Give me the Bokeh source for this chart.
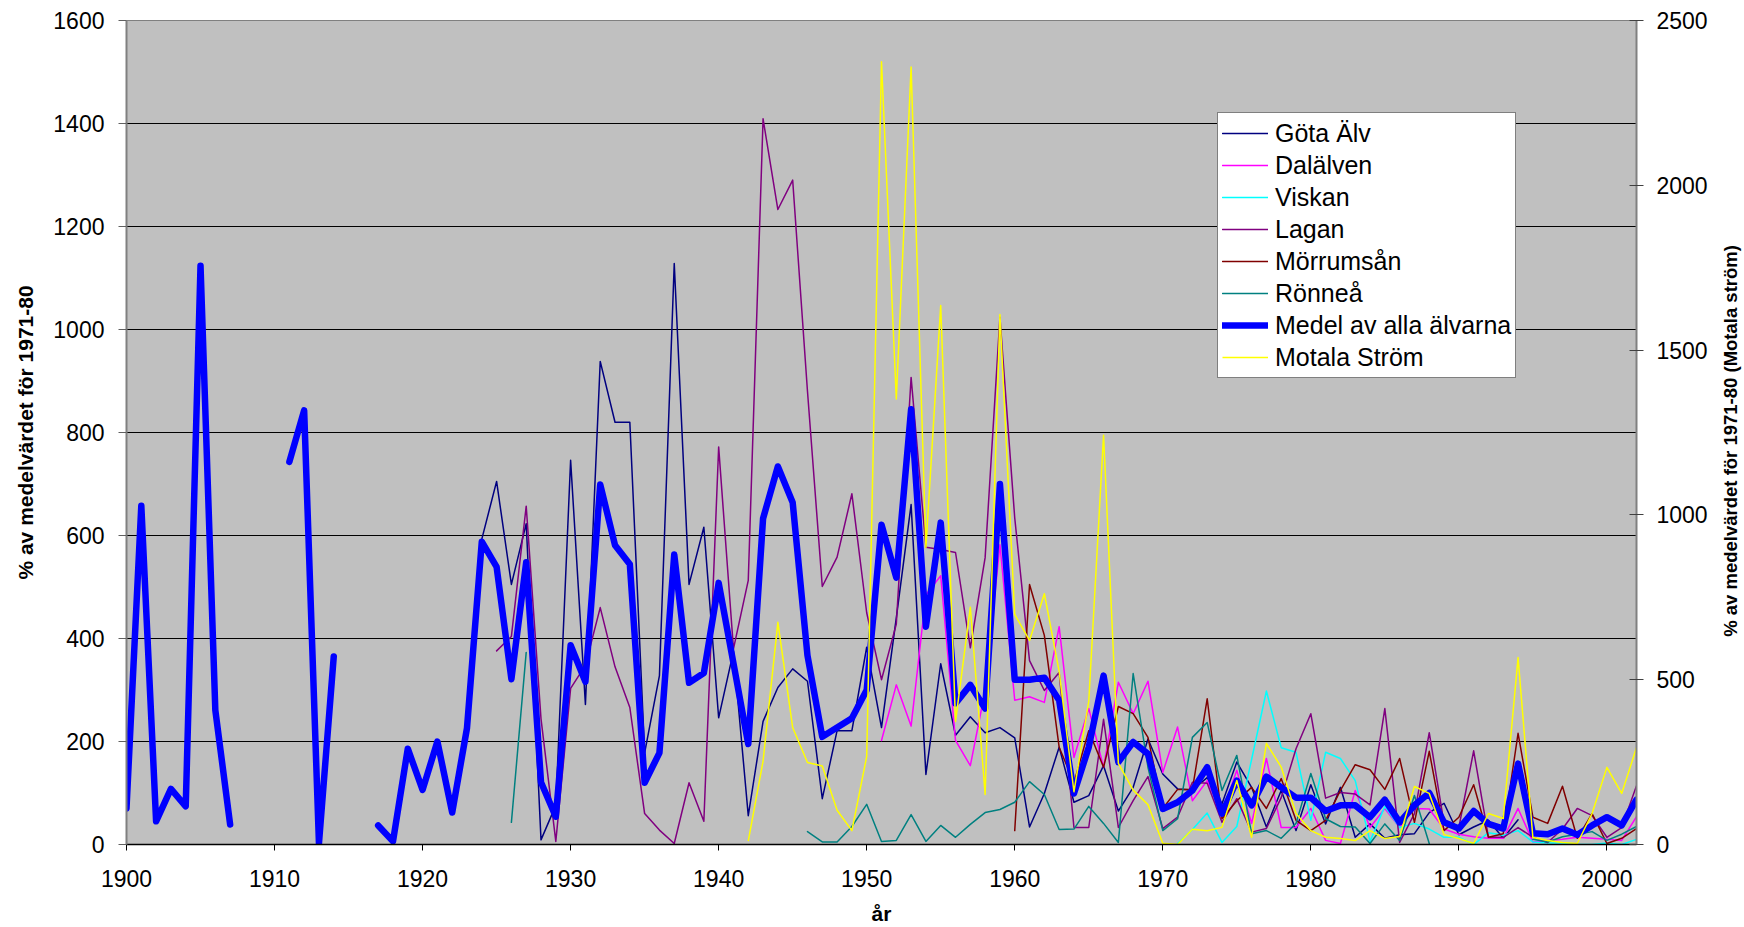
import math
import numpy as np
from bokeh.plotting import figure
from bokeh.layouts import row
from bokeh.models import Range1d, LinearAxis, FixedTicker
from bokeh.core.properties import value
from bokeh.embed import file_html
from bokeh.resources import INLINE

N = None
years = list(range(1900, 2003))

medel = [70, 658, 45, 108, 74, 1124, 261, 39, N, N,
         N, 743, 843, 2, 365, N, N, 37, 6, 186,
         106, 200, 62, 226, 588, 539, 321, 548, 121, 54,
         387, 316, 699, 581, 544, 120, 178, 563, 314, 333,
         508, 352, 195, 633, 734, 664, 367, 209, 227, 245,
         300, 621, 518, 845, 423, 625, 274, 310, 264, 700,
         320, 320, 324, 280, 99, 189, 328, 160, 199, 176,
         69, 82, 105, 150, 60, 124, 76, 132, 111, 91,
         91, 65, 76, 76, 53, 87, 43, 76, 100, 43,
         31, 65, 40, 31, 157, 22, 20, 31, 19, 37,
         53, 37, 87]

gota_start = 1924
gota = [593, 705, 505, 623, 9, 76,
        746, 272, 938, 820, 820, 178, 328, 1128, 505, 616,
        246, 375, 56, 239, 305, 341, 317, 89, 221, 221,
        383, 227, 440, 660, 136, 351, 212, 248, 217, 227,
        207, 34, 99, 189, 82, 95, 153, 65, 111, 205,
        137, 108, 106, 130, 79, 160, 111, 34, 105, 27,
        116, 40, 111, 14, 40, 12, 19, 21, 62, 80,
        19, 34, 47, 12, 48]

dal_start = 1951
dal = [202, 310, 230, 485, 522, 202, 153, 299, 582,
       280, 287, 276, 423, 169, 264, 150, 315, 254, 317,
       140, 228, 85, 124, 60, 144, 41, 167, 33, 33,
       70, 8, 2, 105, 33, 70, 33, 70, 69, 30,
       20, 15, 12, 12, 70, 5, 8, 10, 14, 12,
       10, 8, 54]

viskan_start = 1971
viskan = [2, 29, 61, 4, 35, 165, 298, 188, 179,
          47, 179, 167, 124, 6, 74, 33, 41, 30, 14,
          14, 0, 23, 18, 27, 5, 3, 3, 0, 0,
          3, 0, 10]

lagan_start = 1925
lagan = [376, 404, 657, 244, 6,
         303, 348, 460, 345, 266, 60, 28, 2, 120, 45,
         772, 380, 513, 1409, 1233, 1290, 880, 501, 558, 681,
         450, 320, 428, 907, 577, 573, 567, 382, 557, 1024,
         634, 357, 299, 334, 33, 33, 243, 33, 85, 132,
         31, 53, 121, 119, 43, 89, 24, 31, 91, 186,
         254, 90, 101, 98, 77, 264, 4, 60, 217, 41,
         33, 182, 14, 14, 33, 14, 4, 30, 70, 56,
         14, 33, 114]

morrum_start = 1960
morrum = [27, 505, 406, 189, 120, 221, 150, 268, 254, 208,
          70, 107, 107, 283, 50, 85, 111, 70, 128, 47,
          27, 47, 105, 155, 145, 107, 167, 43, 181, 27,
          53, 116, 14, 21, 216, 53, 41, 113, 12, 60,
          2, 12, 31]

ronne_start = 1926
ronne = [43, 373, N, N,
         N, N, N, N, N, N, N, N, N, N,
         N, N, N, N, N, N, 25, 5, 5, 35,
         78, 6, 8, 58, 6, 37, 14, 39, 62, 68,
         82, 122, 97, 29, 30, 74, 41, 4, 332, 150,
         27, 50, 208, 237, 105, 173, 21, 27, 12, 41,
         138, 50, 35, 34, 2, 40, 8, 95, 2, N,
         N, N, N, N, N, 10, 5, 15, 20, 25,
         8, 20, 35]

motala_start = 1942
motala = [10, 253, 674, 355, 249, 238, 104, 42,
          267, 2375, 1352, 2359, 901, 1635, 373, 720, 152, 1608,
          698, 619, 761, 525, 160, 434, 1242, 246, 165, 121,
          4, 0, 46, 42, 52, 194, 22, 307, 235, 94,
          42, 22, 18, 12, 42, 18, 24, 176, 155, 30,
          18, 3, 94, 79, 567, 21, 12, 6, 3, 94,
          234, 155, 294]

x_ticks = list(range(1900, 2001, 10))
left_ticks = list(range(0, 1601, 200))
right_ticks = list(range(0, 2501, 500))

x_title = "år"
left_title = "% av medelvärdet för 1971-80"
right_title = "% av medelvärdet för 1971-80 (Motala ström)"


def full(start, vals):
    out = [np.nan] * len(years)
    for i, v in enumerate(vals):
        out[start - years[0] + i] = np.nan if v is None else float(v)
    return np.array(out)


FONT = "Liberation Sans"

p = figure(width=1712, height=927, output_backend="svg", toolbar_location=None,
           x_range=Range1d(1900, 2002), y_range=Range1d(0, 1600),
           min_border_left=126, min_border_right=76, min_border_top=20,
           min_border_bottom=83, background_fill_color="#C0C0C0",
           border_fill_color="white", outline_line_color="#808080")

p.extra_y_ranges = {"motala": Range1d(0, 2500)}

# grid
p.xgrid.visible = False
p.ygrid.ticker = FixedTicker(ticks=left_ticks)
p.ygrid.grid_line_color = "#000000"
p.ygrid.grid_line_width = 1

# bottom axis
xa = p.xaxis[0]
xa.ticker = FixedTicker(ticks=x_ticks)
xa.axis_line_color = "#000000"
xa.axis_line_width = 1.5
xa.major_tick_out = 6
xa.major_tick_in = 0
xa.minor_tick_out = 0
xa.minor_tick_in = 0
xa.major_tick_line_color = "#000000"
xa.major_label_standoff = 19
xa.major_label_text_font = FONT
xa.major_label_text_font_size = "23px"
xa.major_label_text_color = "#000000"
xa.axis_label = x_title
xa.axis_label_text_font = FONT
xa.axis_label_text_font_style = "bold"
xa.axis_label_text_font_size = "21px"
xa.axis_label_text_color = "#000000"
xa.axis_label_standoff = 12

# left axis
ya = p.yaxis[0]
ya.ticker = FixedTicker(ticks=left_ticks)
ya.axis_line_color = "#808080"
ya.axis_line_width = 2
ya.major_tick_out = 8
ya.major_tick_in = 0
ya.minor_tick_out = 0
ya.minor_tick_in = 0
ya.major_tick_line_color = "#606060"
ya.major_label_standoff = 14
ya.major_label_text_font = FONT
ya.major_label_text_font_size = "23px"
ya.major_label_text_color = "#000000"
ya.axis_label = left_title
ya.axis_label_text_font = FONT
ya.axis_label_text_font_style = "bold"
ya.axis_label_text_font_size = "21px"
ya.axis_label_text_color = "#000000"
ya.axis_label_standoff = 13

# right axis
ra = LinearAxis(y_range_name="motala", ticker=FixedTicker(ticks=right_ticks))
ra.axis_line_color = "#808080"
ra.axis_line_width = 2
ra.major_tick_out = 7
ra.major_tick_in = 7
ra.minor_tick_out = 0
ra.minor_tick_in = 0
ra.major_tick_line_color = "#404040"
ra.major_label_standoff = 13
ra.major_label_text_font = FONT
ra.major_label_text_font_size = "23px"
ra.major_label_text_color = "#000000"
p.add_layout(ra, "right")

series = [
    ("Göta Älv", gota_start, gota, "#000080", 1.5),
    ("Dalälven", dal_start, dal, "#FF00FF", 1.5),
    ("Viskan", viskan_start, viskan, "#00FFFF", 1.5),
    ("Lagan", lagan_start, lagan, "#800080", 1.5),
    ("Mörrumsån", morrum_start, morrum, "#800000", 1.5),
    ("Rönneå", ronne_start, ronne, "#008080", 1.5),
    ("Medel av alla älvarna", years[0], medel, "#0000FF", 6.5),
]
for name, start, vals, color, w in series:
    p.line(years, full(start, vals), line_color=color, line_width=w,
           line_join="round", line_cap="round", legend_label=name)

p.line(years, full(motala_start, motala), y_range_name="motala",
       line_color="#FFFF00", line_width=1.5, line_join="round",
       legend_label="Motala Ström")

lg = p.legend[0]
lg.location = (1091, 466)
lg.border_line_color = "#000000"
lg.border_line_width = 1
lg.background_fill_color = "white"
lg.background_fill_alpha = 1
lg.label_text_font = FONT
lg.label_text_font_size = "25px"
lg.label_text_color = "#000000"
lg.glyph_width = 46
lg.glyph_height = 32
lg.label_height = 32
lg.label_standoff = 7
lg.padding = 4
lg.spacing = 0
lg.margin = 0

# narrow strip on the right holding the secondary-axis title (reads bottom-to-top)
q = figure(width=32, height=927, output_backend="svg", toolbar_location=None,
           x_range=Range1d(0, 32), y_range=Range1d(0, 927),
           x_axis_type=None, y_axis_type=None,
           min_border_left=0, min_border_right=0, min_border_top=0,
           min_border_bottom=0, background_fill_color="white",
           border_fill_color="white", outline_line_color=None)
q.grid.visible = False
q.text(x=[17.5], y=[454], text=[right_title], angle=math.pi / 2,
       text_align="center", text_baseline="middle",
       text_font=value(FONT), text_font_style="bold",
       text_font_size="18.5px", text_color="#000000")

layout = row(p, q, spacing=0)
open("out.html", "w").write(file_html(layout, INLINE))
